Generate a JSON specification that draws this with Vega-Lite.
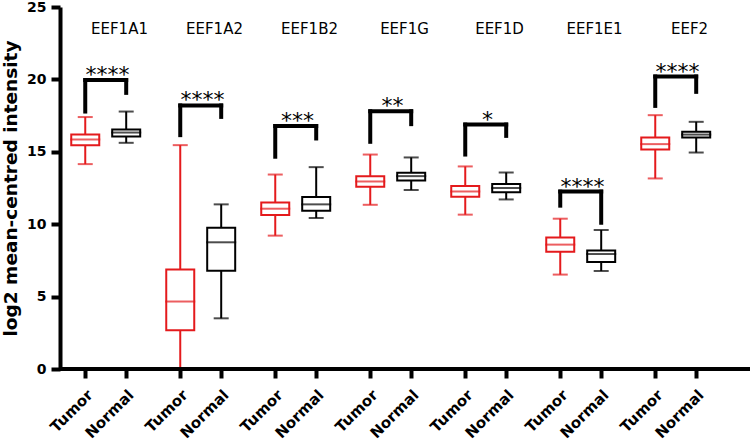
{
  "$schema": "https://vega.github.io/schema/vega-lite/v6.json",
  "padding": {"left": 1, "top": 0, "right": 0, "bottom": 5},
  "background": "white",
  "spacing": 665,
  "bounds": "flush",
  "hconcat": [
    {
      "data": {
        "values": [
          {"gene": "EEF1A1", "group": "Tumor", "lower": 14.15, "q1": 15.45, "median": 15.85, "q3": 16.2, "upper": 17.4, "sig_top": 19.95, "sig_left": 17.78, "sig_right": 19.07, "stars": "****"},
          {"gene": "EEF1A1", "group": "Normal", "lower": 15.62, "q1": 16.06, "median": 16.33, "q3": 16.54, "upper": 17.78},
          {"gene": "EEF1A2", "group": "Tumor", "lower": 0, "q1": 2.68, "median": 4.66, "q3": 6.88, "upper": 15.46, "sig_top": 18.2, "sig_left": 16.15, "sig_right": 17.41, "stars": "****"},
          {"gene": "EEF1A2", "group": "Normal", "lower": 3.5, "q1": 6.79, "median": 8.75, "q3": 9.76, "upper": 11.37},
          {"gene": "EEF1B2", "group": "Tumor", "lower": 9.21, "q1": 10.63, "median": 11.07, "q3": 11.5, "upper": 13.43, "sig_top": 16.78, "sig_left": 14.66, "sig_right": 15.92, "stars": "***"},
          {"gene": "EEF1B2", "group": "Normal", "lower": 10.43, "q1": 10.93, "median": 11.37, "q3": 11.87, "upper": 13.94},
          {"gene": "EEF1G", "group": "Tumor", "lower": 11.34, "q1": 12.59, "median": 12.95, "q3": 13.32, "upper": 14.81, "sig_top": 17.8, "sig_left": 15.69, "sig_right": 16.91, "stars": "**"},
          {"gene": "EEF1G", "group": "Normal", "lower": 12.36, "q1": 13.02, "median": 13.32, "q3": 13.55, "upper": 14.61},
          {"gene": "EEF1D", "group": "Tumor", "lower": 10.66, "q1": 11.9, "median": 12.26, "q3": 12.63, "upper": 13.99, "sig_top": 16.88, "sig_left": 14.81, "sig_right": 16.1, "stars": "*"},
          {"gene": "EEF1D", "group": "Normal", "lower": 11.71, "q1": 12.2, "median": 12.5, "q3": 12.77, "upper": 13.57},
          {"gene": "EEF1E1", "group": "Tumor", "lower": 6.52, "q1": 8.1, "median": 8.59, "q3": 9.09, "upper": 10.38, "sig_top": 12.25, "sig_left": 11.28, "sig_right": 10.1, "stars": "****"},
          {"gene": "EEF1E1", "group": "Normal", "lower": 6.77, "q1": 7.39, "median": 7.94, "q3": 8.19, "upper": 9.6},
          {"gene": "EEF2", "group": "Tumor", "lower": 13.16, "q1": 15.16, "median": 15.53, "q3": 15.99, "upper": 17.53, "sig_top": 20.2, "sig_left": 18.17, "sig_right": 19.14, "stars": "****"},
          {"gene": "EEF2", "group": "Normal", "lower": 14.95, "q1": 15.99, "median": 16.19, "q3": 16.38, "upper": 17.07}
        ]
      },
      "facet": {
        "column": {
          "field": "gene",
          "type": "nominal",
          "sort": ["EEF1A1", "EEF1A2", "EEF1B2", "EEF1G", "EEF1D", "EEF1E1", "EEF2"],
          "header": {"title": null, "labels": false}
        }
      },
      "spacing": 0,
      "bounds": "flush",
      "spec": {
        "width": 95,
        "height": 362,
        "encoding": {
          "x": {
            "field": "group",
            "type": "nominal",
            "sort": ["Tumor", "Normal"],
            "scale": {"domain": ["Tumor", "Normal"], "paddingInner": 0.3, "paddingOuter": 0.31, "align": 0.43},
            "axis": {"title": null, "domain": false}
          }
        },
        "layer": [
          {
            "mark": {"type": "rule", "strokeWidth": 2},
            "encoding": {
              "y": {"field": "lower", "type": "quantitative", "scale": {"domain": [0, 25], "nice": false}, "axis": {"title": "log2 mean-centred intensity", "values": [0, 5, 10, 15, 20, 25]}},
              "y2": {"field": "q1"},
              "color": {"field": "group", "type": "nominal", "scale": {"domain": ["Tumor", "Normal"], "range": ["#e41a1c", "#000000"]}, "legend": null}
            }
          },
          {
            "mark": {"type": "rule", "strokeWidth": 2},
            "encoding": {
              "y": {"field": "q3", "type": "quantitative"},
              "y2": {"field": "upper"},
              "color": {"field": "group", "type": "nominal", "legend": null}
            }
          },
          {
            "mark": {"type": "bar", "filled": false, "size": 28, "strokeWidth": 2},
            "encoding": {
              "y": {"field": "q1", "type": "quantitative"},
              "y2": {"field": "q3"},
              "color": {"field": "group", "type": "nominal", "legend": null}
            }
          },
          {
            "mark": {"type": "tick", "size": 30, "thickness": 2},
            "encoding": {
              "y": {"field": "median", "type": "quantitative"},
              "color": {"field": "group", "type": "nominal", "legend": null}
            }
          },
          {
            "mark": {"type": "tick", "size": 15, "thickness": 2},
            "encoding": {
              "y": {"field": "upper", "type": "quantitative"},
              "color": {"field": "group", "type": "nominal", "legend": null}
            }
          },
          {
            "mark": {"type": "tick", "size": 15, "thickness": 2},
            "encoding": {
              "y": {"field": "lower", "type": "quantitative"},
              "color": {"field": "group", "type": "nominal", "legend": null}
            }
          },
          {
            "transform": [{"filter": "isValid(datum.stars)"}],
            "mark": {"type": "rule", "strokeWidth": 4, "color": "black"},
            "encoding": {
              "x": null,
              "y": {"datum": 0, "type": "quantitative"}
            }
          },
          {
            "transform": [{"filter": "isValid(datum.stars)"}],
            "mark": {"type": "rule", "strokeWidth": 4, "color": "black", "strokeCap": "square"},
            "encoding": {
              "y": {"field": "sig_left", "type": "quantitative"},
              "y2": {"field": "sig_top"}
            }
          },
          {
            "transform": [{"filter": "isValid(datum.stars)"}],
            "mark": {"type": "rule", "strokeWidth": 4, "color": "black", "strokeCap": "square"},
            "encoding": {
              "x": {"datum": "Normal"},
              "y": {"field": "sig_right", "type": "quantitative"},
              "y2": {"field": "sig_top"}
            }
          },
          {
            "transform": [{"filter": "isValid(datum.stars)"}],
            "mark": {"type": "rule", "strokeWidth": 4, "color": "black", "strokeCap": "square"},
            "encoding": {
              "x": {"datum": "Tumor"},
              "x2": {"datum": "Normal"},
              "y": {"field": "sig_top", "type": "quantitative"}
            }
          },
          {
            "transform": [{"filter": "isValid(datum.stars)"}],
            "mark": {"type": "text", "font": "DejaVu Sans", "fontSize": 22, "color": "black", "baseline": "alphabetic", "dy": 2},
            "encoding": {
              "x": null,
              "y": {"field": "sig_top", "type": "quantitative"},
              "text": {"field": "stars"}
            }
          },
          {
            "transform": [{"filter": "isValid(datum.stars)"}],
            "mark": {"type": "text", "font": "DejaVu Sans", "fontSize": 15, "color": "black", "baseline": "middle", "dx": 12},
            "encoding": {
              "x": null,
              "y": {"datum": 23.5, "type": "quantitative"},
              "text": {"field": "gene"}
            }
          }
        ]
      }
    },
    {
      "width": 25,
      "height": 362,
      "data": {"values": [{}]},
      "mark": {"type": "rule", "strokeWidth": 4, "color": "black"},
      "encoding": {
        "y": {"datum": 0, "type": "quantitative", "scale": {"domain": [0, 25], "nice": false}, "axis": null}
      }
    }
  ],
  "config": {
    "view": {"stroke": null},
    "axis": {
      "grid": false,
      "domainColor": "black",
      "domainWidth": 4,
      "tickColor": "black",
      "tickWidth": 4,
      "tickSize": 9,
      "labelFont": "DejaVu Sans",
      "labelFontWeight": "bold",
      "labelColor": "black",
      "titleFont": "DejaVu Sans",
      "titleFontWeight": "bold",
      "titleColor": "black"
    },
    "axisY": {"labelFontSize": 14, "labelPadding": 5, "titleFontSize": 18.5, "titlePadding": 6},
    "axisX": {"labelAngle": -45, "labelFontSize": 15, "labelPadding": 9}
  }
}
